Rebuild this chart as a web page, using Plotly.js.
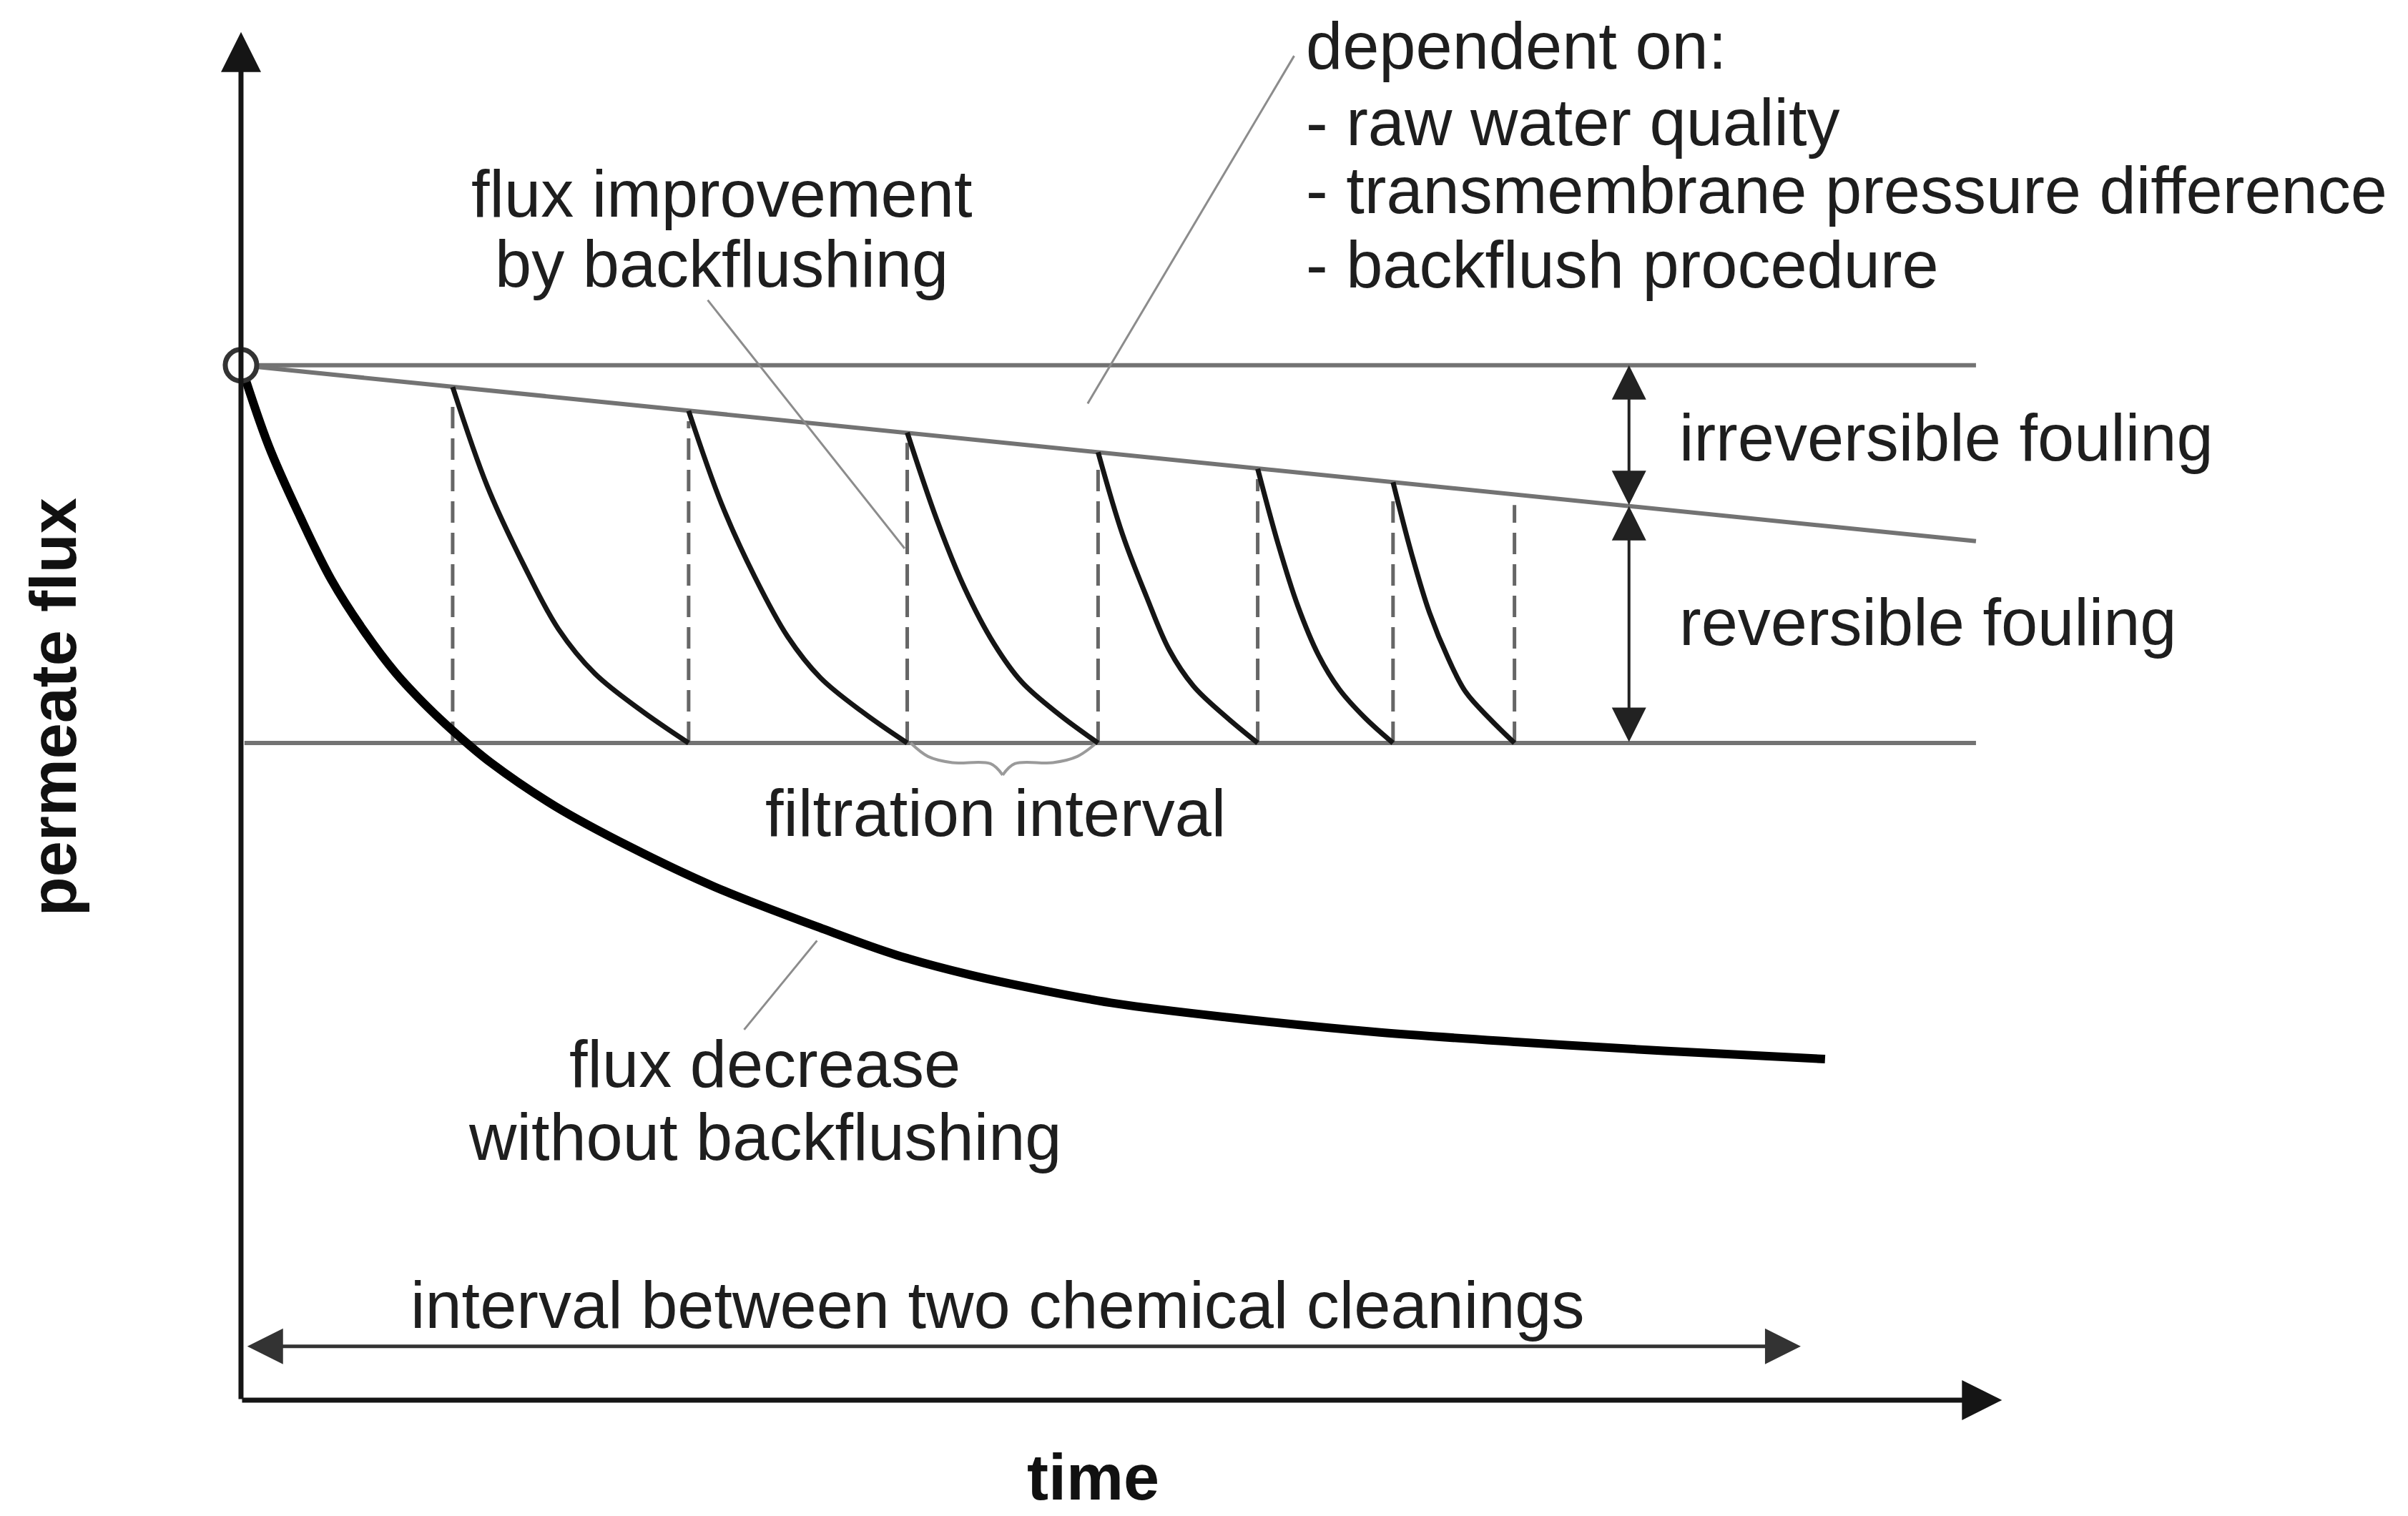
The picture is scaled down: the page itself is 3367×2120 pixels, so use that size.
<!DOCTYPE html>
<html>
<head>
<meta charset="utf-8">
<script src="https://cdn.plot.ly/plotly-3.0.1.min.js"></script>
<style>
  html, body { margin: 0; padding: 0; background: #fff; }
  #plot { width: 3367px; height: 2120px; }
</style>
</head>
<body>
<div id="plot"></div>
<script>
// schematic: permeate flux over time, with and without backflushing
// time and flux are in arbitrary units (flux = 100 at start)

// backflush moments (dashed lines) and the flux reached right after each one
let backflushTimes = [12.2, 25.8, 38.4, 49.4, 58.6, 66.4, 73.4];
let peakFlux = [97.9, 95.6, 93.5, 91.6, 90.0, 88.7, 87.5];

// flux before any fouling, and level where a backflush is triggered
let initialFlux = [100, 100];
let refTime = [0, 100];
let irreversibleFlux = [100, 83];   // slope of irreversible fouling
let reversibleTime = [0.2, 100];
let reversibleLimit = [63.5, 63.5];

// flux decline within each filtration interval
let cycleT1 = [12.2, 14.2, 16.3, 18.3, 20.4, 23.1, 25.8];
let cycleJ1 = [97.9, 88.3, 80.7, 74.5, 70.2, 66.6, 63.5];
let cycleT2 = [25.8, 27.7, 29.6, 31.5, 33.4, 35.9, 38.4];
let cycleJ2 = [95.6, 86.6, 79.6, 73.8, 69.8, 66.4, 63.5];
let cycleT3 = [38.4, 40.1, 41.7, 43.4, 45.0, 47.2, 49.4];
let cycleJ3 = [93.5, 85.1, 78.5, 73.1, 69.4, 66.2, 63.5];
let cycleT4 = [49.4, 50.8, 52.2, 53.5, 54.9, 56.8, 58.6];
let cycleJ4 = [91.6, 83.7, 77.6, 72.5, 69.0, 66.0, 63.5];
let cycleT5 = [58.6, 59.8, 60.9, 62.1, 63.3, 64.8, 66.4];
let cycleJ5 = [90.0, 82.6, 76.8, 72.0, 68.7, 65.9, 63.5];
let cycleT6 = [66.4, 67.5, 68.5, 69.6, 70.6, 72.0, 73.4];
let cycleJ6 = [88.7, 81.6, 76.1, 71.6, 68.4, 65.8, 63.5];

// flux decrease without backflushing
let noBackflushT = [0, 1.6, 3.4, 5.2, 7.1, 8.9, 10.8, 12.4, 14.4, 18.1, 22.5, 27.3, 33.6, 37.8, 42.0, 46.2, 50.5, 56.8, 65.2, 73.6, 82.0, 91.3];
let noBackflushJ = [100, 92.2, 85.4, 79.3, 74.3, 70.3, 66.9, 64.4, 61.6, 57.4, 53.4, 49.6, 45.5, 43.0, 41.1, 39.6, 38.3, 37.0, 35.6, 34.6, 33.75, 32.95];

// brace under one filtration interval
let braceT = [38.6, 39.6, 41.0, 43.2, 43.9, null, 43.9, 44.6, 46.8, 48.2, 49.3];
let braceJ = [63.5, 62.2, 61.6, 61.5, 60.4, null, 60.4, 61.5, 61.6, 62.2, 63.5];

// pointer lines from labels
let leaderT = [26.9, 38.25, null, 60.7, 48.8, null, 33.2, 29.0];
let leaderJ = [106.3, 82.3, null, 129.9, 96.3, null, 44.4, 35.8];

// dashed verticals at each backflush
let dashT = [];
let dashJ = [];
for (let i = 0; i < backflushTimes.length; i++) {
  dashT.push(backflushTimes[i], backflushTimes[i], null);
  dashJ.push(reversibleLimit[0], peakFlux[i] - 1, null);
}

let grey = '#737373';
let ink = '#151515';
let font = 'Liberation Sans, Arial, sans-serif';

let data = [
  {x: refTime, y: initialFlux, mode: 'lines', line: {color: grey, width: 6}},
  {x: refTime, y: irreversibleFlux, mode: 'lines', line: {color: grey, width: 6}},
  {x: reversibleTime, y: reversibleLimit, mode: 'lines', line: {color: grey, width: 6}},
  {x: dashT, y: dashJ, mode: 'lines', line: {color: '#666', width: 5, dash: '30px,14px'}},
  {x: leaderT, y: leaderJ, mode: 'lines', line: {color: '#8c8c8c', width: 3}},
  {x: braceT, y: braceJ, mode: 'lines', line: {color: '#9a9a9a', width: 4, shape: 'spline'}},
];

let cycles = [[cycleT1, cycleJ1], [cycleT2, cycleJ2], [cycleT3, cycleJ3],
              [cycleT4, cycleJ4], [cycleT5, cycleJ5], [cycleT6, cycleJ6]];
cycles.forEach(function (c) {
  data.push({x: c[0], y: c[1], mode: 'lines', line: {color: ink, width: 7, shape: 'spline'}});
});

data.push({x: noBackflushT, y: noBackflushJ, mode: 'lines', line: {color: '#000', width: 12, shape: 'spline'}});

data.push({x: [0], y: [100], mode: 'markers',
  marker: {symbol: 'circle', size: 44, color: '#fff', line: {color: '#333', width: 7}}});

// arrows (axes and dimension arrows)
function arrow(x0, y0, x1, y1, w, size, color, both) {
  return {x: x1, y: y1, ax: x0, ay: y0, xref: 'x', yref: 'y', axref: 'x', ayref: 'y',
    text: '', showarrow: true, arrowhead: 2, startarrowhead: 2, arrowsize: size, startarrowsize: size,
    arrowwidth: w, arrowcolor: color, arrowside: both ? 'end+start' : 'end'};
}

function label(text, x, y, anchor, opts) {
  let a = {x: x, y: y, xref: 'x', yref: 'y', text: text, showarrow: false,
    xanchor: anchor, yanchor: 'middle', font: {family: font, size: 92, color: '#1e1e1e'}};
  return Object.assign(a, opts || {});
}

let annotations = [
  arrow(0, 0, 0, 132.2, 7, 1.6, ink, false),
  arrow(0, 0, 101.5, 0, 7, 1.6, ink, false),
  arrow(80, 86.4, 80, 100, 4, 2.4, '#222', true),
  arrow(80, 63.5, 80, 86.4, 4, 2.4, '#222', true),
  arrow(0.3, 5.2, 89.9, 5.2, 5, 2.0, '#333', true),

  label('dependent on:', 61.3, 130.9, 'left'),
  label('- raw water quality', 61.3, 123.5, 'left'),
  label('- transmembrane pressure difference', 61.3, 116.9, 'left'),
  label('- backflush procedure', 61.3, 109.7, 'left'),
  label('flux improvement', 27.7, 116.6, 'center'),
  label('by backflushing', 27.7, 109.8, 'center'),
  label('irreversible fouling', 82.8, 93.0, 'left'),
  label('reversible fouling', 82.8, 75.2, 'left'),
  label('filtration interval', 43.5, 56.7, 'center'),
  label('flux decrease', 30.2, 32.5, 'center'),
  label('without backflushing', 30.2, 25.4, 'center'),
  label('interval between two chemical cleanings', 43.6, 9.2, 'center'),
  label('<b>time</b>', 49.1, -7.5, 'center', {font: {family: font, size: 90, color: '#111'}}),
  label('<b>permeate flux</b>', -10.8, 67.0, 'center',
    {textangle: -90, font: {family: font, size: 90, color: '#111'}})
];

let layout = {
  width: 3367,
  height: 2120,
  margin: {l: 0, r: 0, t: 0, b: 0},
  paper_bgcolor: '#fff',
  plot_bgcolor: '#fff',
  showlegend: false,
  xaxis: {range: [-13.89, 124.9], visible: false, fixedrange: true},
  yaxis: {range: [-11.2, 135.3], visible: false, fixedrange: true},
  annotations: annotations
};

Plotly.newPlot('plot', data, layout, {staticPlot: true});
</script>
</body>
</html>
